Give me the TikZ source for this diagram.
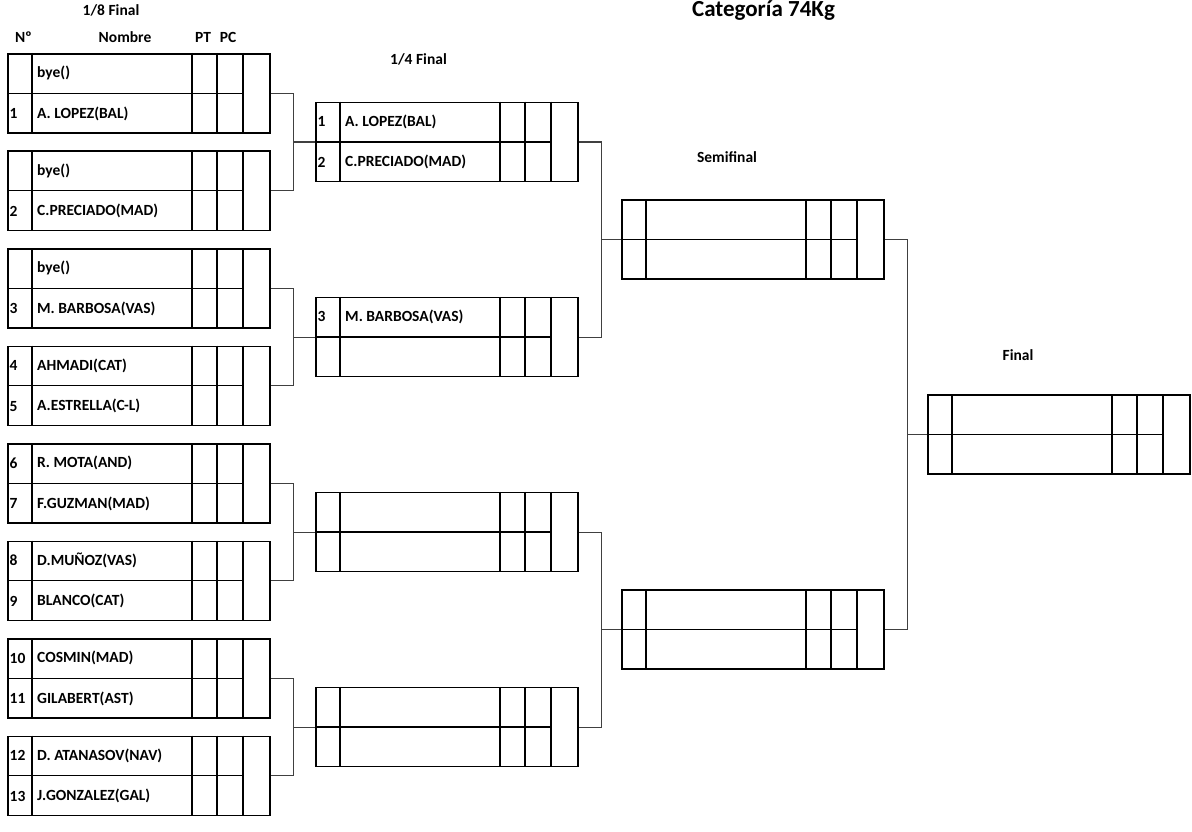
\documentclass[tikz,border=0pt]{standalone}
\usepackage{fontspec}
\setmainfont{Carlito}
\usetikzlibrary{calc}
\definecolor{BracketInk}{HTML}{000000}
\definecolor{BracketLink}{HTML}{404040}
\tikzset{
  every node/.style={font=\bfseries\fontsize{15.5}{18}\selectfont, text=BracketInk},
  boutbox/.style={draw=BracketInk, line width=1.6pt, anchor=north west, inner sep=0pt,
    minimum width=262pt, minimum height=79pt},
  cell/.style={draw=BracketInk, line width=1.3pt},
  entry/.style={anchor=west, inner sep=0pt},
  heading/.style={inner sep=0pt},
  link/.style={draw=BracketLink, line width=1.1pt},
}
\newcommand{\bout}[7]{%
  \node[boutbox] (#1) at (#2,#3) {};
  \foreach \c in {25,185,210,236}
    \draw[cell] ([xshift=\c pt]#1.north west) -- ([xshift=\c pt]#1.south west);
  \draw[cell] (#1.west) -- ([xshift=236pt]#1.west);
  \node[entry] (#1-na) at ([xshift=2.5pt,yshift=-20pt]#1.north west) {#4};
  \node[entry] (#1-ta) at ([xshift=30pt,yshift=-20pt]#1.north west) {#5};
  \node[entry] (#1-nb) at ([xshift=2.5pt,yshift=20pt]#1.south west) {#6};
  \node[entry] (#1-tb) at ([xshift=30pt,yshift=20pt]#1.south west) {#7};
}

\begin{document}
\begin{tikzpicture}[x=1pt,y=-1pt]
  \useasboundingbox (0,0) rectangle (1192,832);
  \node[font=\bfseries\fontsize{23}{26}\selectfont, anchor=base] (title) at (763.5,17) {Categoría 74Kg};
  \node[heading] (h8) at (111,10) {1/8 Final};
  \node[heading] (hnum) at (23.5,37) {Nº};
  \node[heading] (hname) at (125,37) {Nombre};
  \node[heading] (hpt) at (203,37) {PT};
  \node[heading] (hpc) at (228,37) {PC};
  \node[heading] (h4) at (418.5,59) {1/4 Final};
  \node[heading] (hs) at (727,157) {Semifinal};
  \node[heading] (hf) at (1018,355) {Final};

  \foreach \i/\na/\ta/\nb/\tb [evaluate=\i as \ytop using 53+97.5*(\i-1)] in {
      1/{}/bye()/1/A. LOPEZ(BAL),
      2/{}/bye()/2/C.PRECIADO(MAD),
      3/{}/bye()/3/M. BARBOSA(VAS),
      4/4/AHMADI(CAT)/5/A.ESTRELLA(C-L),
      5/6/R. MOTA(AND)/7/F.GUZMAN(MAD),
      6/8/D.MUÑOZ(VAS)/9/BLANCO(CAT),
      7/10/COSMIN(MAD)/11/GILABERT(AST),
      8/12/D. ATANASOV(NAV)/13/J.GONZALEZ(GAL)}{
    \bout{o\i}{7}{\ytop}{\na}{\ta}{\nb}{\tb}
  }

  \bout{q1}{315}{101.75}{1}{A. LOPEZ(BAL)}{2}{C.PRECIADO(MAD)}
  \bout{q2}{315}{296.75}{3}{M. BARBOSA(VAS)}{}{}
  \bout{q3}{315}{491.75}{}{}{}{}
  \bout{q4}{315}{686.75}{}{}{}{}

  \bout{s1}{621}{199.25}{}{}{}{}
  \bout{s2}{621}{589.25}{}{}{}{}

  \bout{f}{927}{394.25}{}{}{}{}

  \foreach \a/\b/\c in {o1/o2/q1,o3/o4/q2,o5/o6/q3,o7/o8/q4,q1/q2/s1,q3/q4/s2,s1/s2/f}{
    \draw[link] (\a.east) -- ++(23,0) coordinate (\c-in) |- (\b.east);
    \draw[link] (\c.west) -- (\c.west -| \c-in);
  }
\end{tikzpicture}
\end{document}
